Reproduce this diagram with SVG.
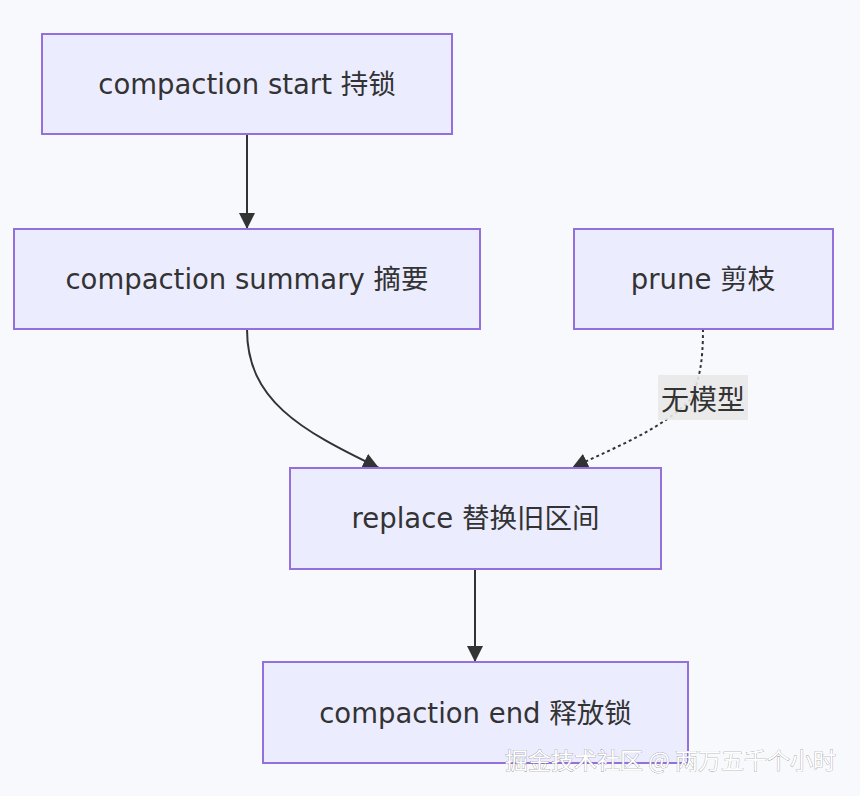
<svg xmlns="http://www.w3.org/2000/svg" width="860" height="796" viewBox="0 0 860 796">
<defs>
<style>
.node rect{fill:#ECECFF;stroke:#9370DB;stroke-width:2}
.node text{font-family:"DejaVu Sans","Noto Sans CJK SC",sans-serif;font-size:27.5px;fill:#333;text-anchor:middle;dominant-baseline:central}
.edge{fill:none;stroke:#333;stroke-width:2}
.dotted{stroke-dasharray:3 3}
.lbl{font-family:"Noto Sans CJK SC",sans-serif;font-size:28px;fill:#333;text-anchor:middle;dominant-baseline:central}
.wm{font-family:"Noto Sans CJK SC",sans-serif;font-size:23px;fill:#fff;stroke:#888;stroke-width:0.6;paint-order:stroke}
</style>
<marker id="arrh" viewBox="0 0 10 10" refX="10" refY="5" markerWidth="16" markerHeight="16" markerUnits="userSpaceOnUse" orient="auto">
<path d="M0,0 L10,5 L0,10 z" fill="#333"/>
</marker>
</defs>
<rect width="860" height="796" fill="#f8f9fc"/>
<g id="edges">
<path class="edge" d="M247,134 L247,229" marker-end="url(#arrh)"/>
<path class="edge" d="M247,329 C247,400 300,430 379,468" marker-end="url(#arrh)"/>
<path class="edge dotted" d="M703,329 C703,360 700,380 690,400 C660,430 620,445 572,468" marker-end="url(#arrh)"/>
<path class="edge" d="M475,569 L475,662" marker-end="url(#arrh)"/>
<rect x="658" y="375" width="90" height="45" fill="#e8e8e8" opacity="0.9"/>
<text class="lbl" x="703" y="398">无模型</text>
</g>
<g id="n1" class="node"><rect x="42" y="34" width="410" height="100"/><text x="247" y="84">compaction start 持锁</text></g>
<g id="n2" class="node"><rect x="14" y="229" width="466" height="100"/><text x="247" y="279">compaction summary 摘要</text></g>
<g id="n3" class="node"><rect x="574" y="229" width="259" height="100"/><text x="703" y="279">prune 剪枝</text></g>
<g id="n4" class="node"><rect x="290" y="468" width="371" height="101"/><text x="475.5" y="518">replace 替换旧区间</text></g>
<g id="n5" class="node"><rect x="263" y="662" width="425" height="101"/><text x="475.5" y="713">compaction end 释放锁</text></g>
<text class="wm" x="505" y="769">掘金技术社区 @ 两万五千个小时</text>
</svg>
